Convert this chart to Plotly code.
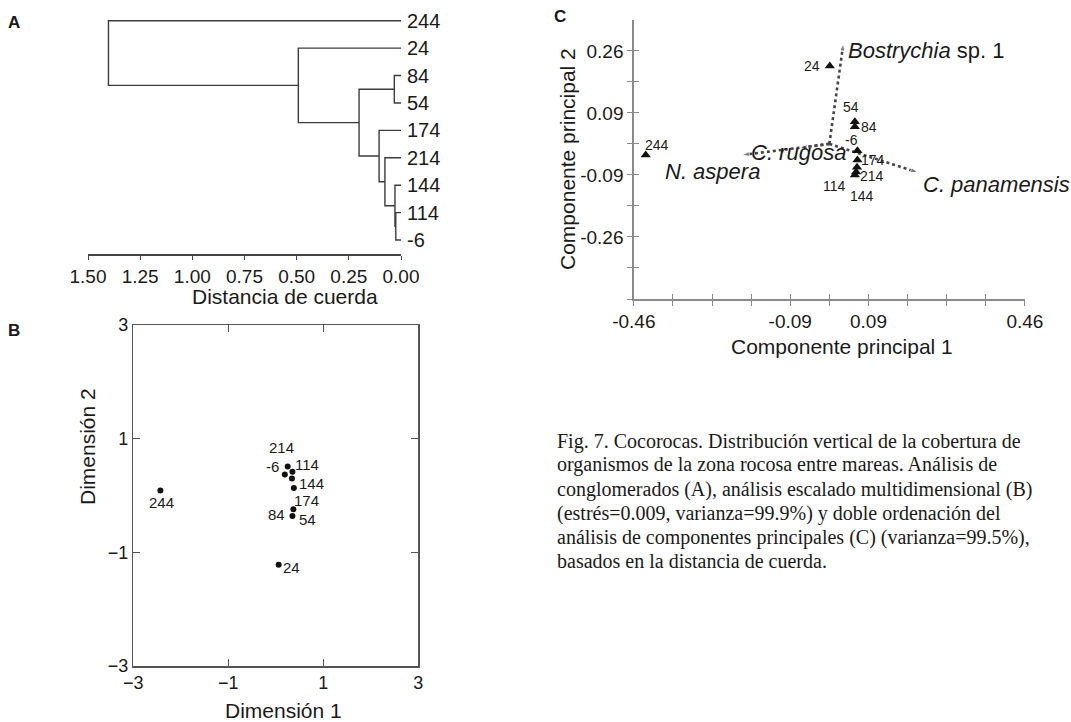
import plotly.graph_objects as go

# ---------------- DATA ----------------
# Panel A: cluster dendrogram (chord distance)
leaf_labels = ["244", "24", "84", "54", "174", "214", "144", "114", "-6"]
merge_a = ["114", "144", "214", "174", "84", "m4", "24", "244"]
merge_b = ["-6", "m0", "m1", "m2", "54", "m3", "m5", "m6"]
merge_height = [0.025, 0.029, 0.077, 0.105, 0.032, 0.201, 0.492, 1.402]
dist_ticks = [1.50, 1.25, 1.00, 0.75, 0.50, 0.25, 0.00]
dist_ticktext = ["1.50", "1.25", "1.00", "0.75", "0.50", "0.25", "0.00"]

# Panel B: multidimensional scaling
mds_labels = ["214", "-6", "114", "144", "174", "84", "54", "24", "244"]
mds_dim1 = [0.25, 0.19, 0.35, 0.34, 0.38, 0.37, 0.35, 0.06, -2.43]
mds_dim2 = [0.51, 0.37, 0.42, 0.30, 0.13, -0.24, -0.36, -1.22, 0.09]
mds_ticks = [-3, -1, 1, 3]

# Panel C: PCA biplot
pca_labels = ["24", "54", "84", "-6", "174", "214", "144", "114", "244"]
pc1 = [0.001, 0.060, 0.060, 0.066, 0.066, 0.065, 0.063, 0.060, -0.432]
pc2 = [0.231, 0.066, 0.051, -0.020, -0.048, -0.069, -0.083, -0.092, -0.033]
species = ["<i>Bostrychia</i> sp. 1", "<i>N. aspera</i>", "<i>C. rugosa</i>", "<i>C. panamensis</i>"]
sp_pc1 = [0.033, -0.206, -0.070, 0.209]
sp_pc2 = [0.298, -0.033, -0.012, -0.085]
pca_ticks = [-0.46 + 0.092 * k for k in range(11)]
pca_xtickval = [-0.46, -0.092, 0.092, 0.46]
pca_xticktext = ["-0.46", "-0.09", "0.09", "0.46"]
pca_ytickval = [-0.276, -0.092, 0.092, 0.276]
pca_yticktext = ["-0.26", "-0.09", "0.09", "0.26"]

caption_lines = [
    "Fig. 7. Cocorocas. Distribución vertical de la cobertura de",
    "organismos de la zona rocosa entre mareas. Análisis de",
    "conglomerados (A), análisis escalado multidimensional (B)",
    "(estrés=0.009, varianza=99.9%) y doble ordenación del",
    "análisis de componentes principales (C) (varianza=99.5%),",
    "basados en la distancia de cuerda.",
]

# ---------------- LAYOUT HELPERS ----------------
W, H = 1071, 722
SANS = "Liberation Sans, Arial, Helvetica, sans-serif"
SERIF = "Liberation Serif, Times New Roman, serif"
INK = "#1a1a1a"


def fx(p):
    return p / W


def fy(p):
    return 1 - p / H


def label_for(vals, labvals, labtext):
    out = []
    for v in vals:
        t = ""
        for lv, lt in zip(labvals, labtext):
            if abs(v - lv) < 1e-6:
                t = lt
        out.append(t)
    return out


fig = go.Figure()
annotations = []

# ---------------- PANEL A ----------------
pos = {lab: float(i) for i, lab in enumerate(leaf_labels)}
hgt = {lab: 0.0 for lab in leaf_labels}
lx, ly = [], []
for i, (a, b, h) in enumerate(zip(merge_a, merge_b, merge_height)):
    ya, yb = pos[a], pos[b]
    lx += [hgt[a], h, h, hgt[b], None]
    ly += [ya, ya, yb, yb, None]
    pos[f"m{i}"] = (ya + yb) / 2
    hgt[f"m{i}"] = h

fig.add_trace(go.Scatter(x=lx, y=ly, mode="lines", line=dict(color="#3c3c3c", width=1.4),
                         xaxis="x", yaxis="y", hoverinfo="skip", showlegend=False))
for lab in leaf_labels:
    annotations.append(dict(x=0.0, y=pos[lab], xref="x", yref="y", text=lab, showarrow=False,
                            xanchor="left", xshift=4, font=dict(family=SANS, size=20, color=INK)))

# ---------------- PANEL B ----------------
fig.add_trace(go.Scatter(x=mds_dim1, y=mds_dim2, mode="markers",
                         marker=dict(color="#111", size=6),
                         xaxis="x2", yaxis="y2", hoverinfo="skip", showlegend=False))
mds_off = {"214": (-6, -19), "-6": (-12, -8), "114": (15, -7), "144": (20, 5), "174": (13, 12),
           "84": (-17, 5), "54": (15, 4), "24": (13, 3), "244": (1, 12)}
for lab, x, y in zip(mds_labels, mds_dim1, mds_dim2):
    dx, dy = mds_off[lab]
    annotations.append(dict(x=x, y=y, xref="x2", yref="y2", text=lab, showarrow=False,
                            xshift=dx, yshift=-dy, font=dict(family=SANS, size=15, color=INK)))

# ---------------- PANEL C ----------------
for sx, sy in zip(sp_pc1, sp_pc2):
    fig.add_trace(go.Scatter(x=[0, sx], y=[0, sy], mode="lines+markers",
                             line=dict(color="#444", width=2.6, dash="dot"),
                             marker=dict(symbol="arrow", size=[0, 8], angleref="previous", color="#444"),
                             xaxis="x3", yaxis="y3", hoverinfo="skip", showlegend=False, cliponaxis=False))
fig.add_trace(go.Scatter(x=pc1, y=pc2, mode="markers",
                         marker=dict(symbol="triangle-up", color="#111", size=9),
                         xaxis="x3", yaxis="y3", hoverinfo="skip", showlegend=False))
fig.add_trace(go.Scatter(x=[0], y=[0], mode="markers", marker=dict(opacity=0),
                         xaxis="x4", yaxis="y4", hoverinfo="skip", showlegend=False))
pca_off = {"24": (-18, 0), "54": (-4, -15), "84": (14, 0), "-6": (-6, -11), "174": (16, 0),
           "214": (15, 9), "114": (-20, 11), "144": (6, 24), "244": (11, -10)}
for lab, x, y in zip(pca_labels, pc1, pc2):
    dx, dy = pca_off[lab]
    annotations.append(dict(x=x, y=y, xref="x3", yref="y3", text=lab, showarrow=False,
                            xshift=dx, yshift=-dy, font=dict(family=SANS, size=14, color=INK)))
# (anchor, x-offset px, y-offset px downward) for species labels
sp_anchor = [("left", 3, 7), ("right", 20, 16), ("center", -1, 5), ("left", 3, 12)]
for name, sx, sy, (anc, dx, dy) in zip(species, sp_pc1, sp_pc2, sp_anchor):
    annotations.append(dict(x=sx, y=sy, xref="x3", yref="y3", text=name, showarrow=False,
                            xanchor=anc, xshift=dx, yshift=-dy,
                            font=dict(family=SANS, size=22, color=INK)))


# ---------------- TEXT ----------------
def txt(x, y, t, size, family=SANS, angle=0, xanchor="center", bold=False):
    annotations.append(dict(x=fx(x), y=fy(y), xref="paper", yref="paper",
                            text=f"<b>{t}</b>" if bold else t, showarrow=False,
                            xanchor=xanchor, yanchor="middle", textangle=angle,
                            font=dict(family=family, size=size, color=INK)))


txt(14, 22, "A", 17, bold=True)
txt(14, 330, "B", 17, bold=True)
txt(560, 16, "C", 17, bold=True)
txt(285, 297, "Distancia de cuerda", 21)
txt(283, 710, "Dimensión 1", 21)
txt(87, 447, "Dimensión 2", 21, angle=-90)
txt(842, 346, "Componente principal 1", 21)
txt(567, 159, "Componente principal 2", 21, angle=-90)
for i, line in enumerate(caption_lines):
    txt(555, 441 + 24 * i, line, 20, family=SERIF, xanchor="left")

# ---------------- AXES ----------------
base = dict(showgrid=False, zeroline=False, automargin=False)
fig.update_layout(
    template="none",
    width=W, height=H, margin=dict(l=0, r=0, t=0, b=0, pad=0), autosize=False,
    paper_bgcolor="white", plot_bgcolor="white", showlegend=False,
    annotations=annotations,
    xaxis=dict(domain=[fx(88), fx(401)], range=[1.5, 0], anchor="y", showline=True,
               linecolor="#444", linewidth=1.4, ticks="outside", ticklen=4, tickcolor="#444",
               tickvals=dist_ticks, ticktext=dist_ticktext,
               tickfont=dict(family=SANS, size=19, color=INK), **base),
    yaxis=dict(domain=[fy(254.3), fy(10)], range=[8.52, -0.39], visible=False, **base),
    xaxis2=dict(domain=[fx(133.3), fx(418.3)], range=[-3, 3], anchor="y2", showline=True,
                mirror="ticks", linecolor="#555", linewidth=1.5, ticks="inside", ticklen=7,
                tickcolor="#555", tickvals=mds_ticks,
                tickfont=dict(family=SANS, size=18, color=INK), **base),
    yaxis2=dict(domain=[fy(666), fy(325)], range=[-3, 3], anchor="x2", showline=True,
                mirror="ticks", linecolor="#555", linewidth=1.5, ticks="inside", ticklen=7,
                tickcolor="#555", tickvals=mds_ticks,
                tickfont=dict(family=SANS, size=18, color=INK), **base),
    xaxis3=dict(domain=[fx(633.8), fx(1024.9)], range=[-0.46, 0.46], anchor="y3", showline=True,
                linecolor="#8a8a8a", linewidth=1.5, ticks="outside", ticklen=5, tickcolor="#8a8a8a",
                tickvals=pca_ticks, ticktext=label_for(pca_ticks, pca_xtickval, pca_xticktext),
                tickfont=dict(family=SANS, size=19, color=INK), **base),
    yaxis3=dict(domain=[fy(299), fy(20.3)], range=[-0.46, 0.3666], anchor="x3", showline=True,
                linecolor="#8a8a8a", linewidth=1.5, ticks="outside", ticklen=5, tickcolor="#8a8a8a",
                tickvals=pca_ticks[:10], ticktext=label_for(pca_ticks[:10], pca_ytickval, pca_yticktext),
                tickfont=dict(family=SANS, size=19, color=INK), **base),
    xaxis4=dict(overlaying="x3", range=[-0.46, 0.46], anchor="y4", showline=False,
                ticks="inside", ticklen=5, tickcolor="#8a8a8a", tickvals=pca_ticks,
                showticklabels=False, **base),
    yaxis4=dict(overlaying="y3", range=[-0.46, 0.3666], anchor="x4", showline=False,
                ticks="inside", ticklen=5, tickcolor="#8a8a8a", tickvals=pca_ticks[:10],
                showticklabels=False, **base),
)

fig.write_html("out.html", config={"displayModeBar": False, "staticPlot": True},
               post_script="document.body.style.margin='0';document.body.style.overflow='hidden';")
